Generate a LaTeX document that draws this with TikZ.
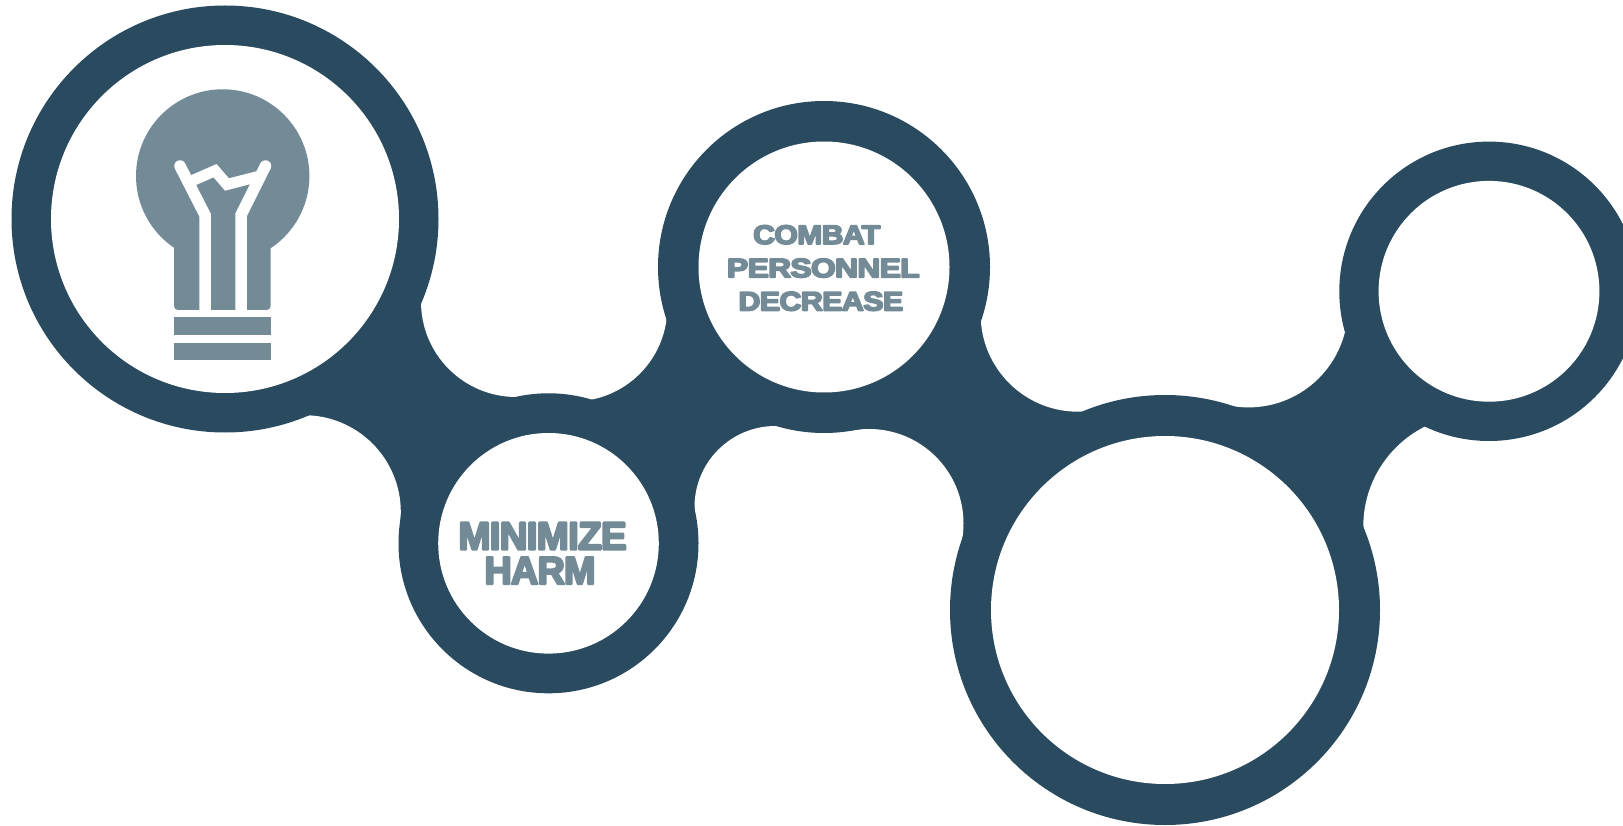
\documentclass[tikz,border=0pt]{standalone}
\usepackage{fontspec}
\setmainfont{Liberation Sans}
\newfontfamily\heavyfont[LetterSpace=-2, BoldFeatures={FakeBold=6}]{Liberation Sans}
\definecolor{navy}{HTML}{2A4A5F}
\definecolor{slate}{HTML}{738A97}
\tikzset{
  darkfill/.style={fill=navy},
  holefill/.style={fill=white},
  lampfill/.style={fill=slate},
  wire/.style={draw=white, line width=11.5pt, line join=miter},
  smalltxt/.style={anchor=base, text=slate, inner sep=0pt, line join=round, font=\heavyfont\fontsize{26.8pt}{27pt}\selectfont\bfseries},
  bigtxt/.style={anchor=base, text=slate, inner sep=0pt, line join=round, font=\heavyfont\fontsize{39pt}{40pt}\selectfont\bfseries}
}
\begin{document}
\begin{tikzpicture}[x=1pt,y=-1pt,line join=round]
\useasboundingbox (0,0) rectangle (1623,826);
\fill[white] (0,0) rectangle (1623,826);
% circle centres
\coordinate (c1) at (225,219);
\coordinate (c2) at (548.5,543.3);
\coordinate (c3) at (824,267);
\coordinate (c4) at (1165,610);
\coordinate (c5) at (1489,291.3);
% fillet centres
\coordinate (f12u) at (516.3,301.7);
\coordinate (f12d) at (304,512);
\coordinate (f23u) at (573.2,307.3);
\coordinate (f23d) at (775.5,507);
\coordinate (f34u) at (1078.1,314.2);
\coordinate (f34d) at (869,523.5);
\coordinate (f45u) at (1248.4,307.9);
\coordinate (f45d) at (1474.9,526.4);
% webs between neighbouring circles
\fill[darkfill] (c1) -- (f12u) -- (c2) -- (f12d) -- cycle;
\fill[darkfill] (c2) -- (f23d) -- (c3) -- (f23u) -- cycle;
\fill[darkfill] (c3) -- (f34u) -- (c4) -- (f34d) -- cycle;
\fill[darkfill] (c4) -- (f45d) -- (c5) -- (f45u) -- cycle;
% concave fillets
\fill[holefill] (f12u) circle[radius=95.3];
\fill[holefill] (f12d) circle[radius=96.8];
\fill[holefill] (f23u) circle[radius=94.1];
\fill[holefill] (f23d) circle[radius=81];
\fill[holefill] (f34u) circle[radius=97.5];
\fill[holefill] (f34d) circle[radius=94.5];
\fill[holefill] (f45u) circle[radius=99.5];
\fill[holefill] (f45d) circle[radius=111.6];
% rings
\fill[darkfill] (c1) circle[radius=213.5];
\fill[darkfill] (c2) circle[radius=150];
\fill[darkfill] (c3) circle[radius=166];
\fill[darkfill] (c4) circle[radius=215];
\fill[darkfill] (c5) circle[radius=149.7];
\fill[holefill] (c1) circle[radius=174];
\fill[holefill] (c2) circle[radius=110.3];
\fill[holefill] (c3) circle[radius=125.5];
\fill[holefill] (c4) circle[radius=174];
\fill[holefill] (c5) circle[radius=110.4];
% light bulb
\fill[lampfill] (222.7,176) circle[radius=86.7];
\fill[lampfill, rounded corners=4pt] (174,225) -- (174,310) -- (270.7,310) -- (270.7,225) -- cycle;
\fill[lampfill] (174,317.3) rectangle (270.7,335);
\fill[lampfill] (174,342.7) rectangle (270.7,360);
\draw[wire, line cap=round] (205,311) -- (205,215) -- (180,166);
\draw[wire, line cap=round] (241,311) -- (241,215) -- (265.5,166);
\draw[wire, line width=11pt] (187,183) -- (215,170.7) -- (227,184.5) -- (260,176);
% texts
\node[smalltxt] (t1) at (816.7,244) {\scalebox{1.125}[1]{COMBAT}};
\node[smalltxt] (t2) at (823.3,277.3) {\scalebox{1.185}[1]{PERSONNEL}};
\node[smalltxt] (t3) at (820.8,310.5) {\scalebox{1.135}[1]{DECREASE}};
\node[bigtxt] (t4) at (542.5,549.5) {\scalebox{0.99}[1]{MINIMIZE}};
\node[bigtxt] (t5) at (540,584) {\scalebox{0.97}[1]{HARM}};
\end{tikzpicture}
\end{document}
